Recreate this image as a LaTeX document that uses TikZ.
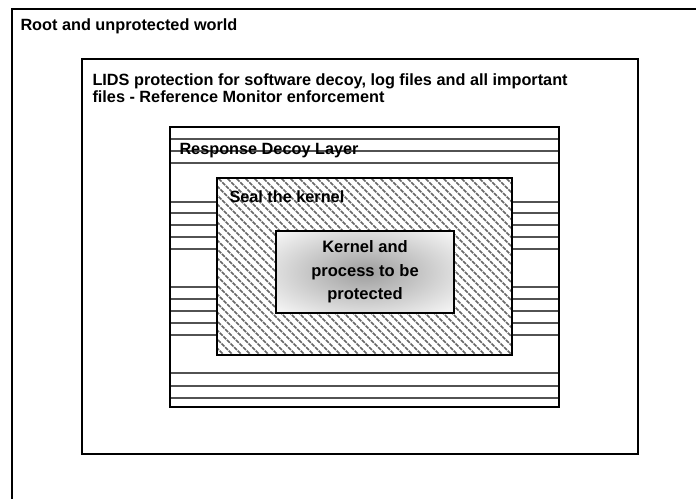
\documentclass[tikz,border=0pt]{standalone}
\usepackage{fontspec}
\setmainfont{Liberation Sans}
\tikzset{every picture/.style={line width=0.75pt}}
\tikzset{
  boxline/.style={line width=1.5pt},
  decoyline/.style={draw=black!68, line width=1.9pt},
  hatchline/.style={draw=black!60, line width=1.2pt, dash pattern=on 3pt off 0.8pt},
  boxtext/.style={font=\bfseries\fontsize{12.2}{13.2}\selectfont, inner sep=0pt, align=left}
}

\begin{document}
\begin{tikzpicture}[x=0.75pt,y=0.75pt,yscale=-1,xscale=1]
	\useasboundingbox (0,0) rectangle (696,499);
	\fill[white] (0,0) rectangle (696,499);

	%Shape: Rectangle [id:outer] 
	\draw[boxline] (12,9) rectangle (730,530);
	%Shape: Rectangle [id:lids] 
	\draw[boxline] (82,59) rectangle (638,454);

	%Shape: Lines [id:decoy] 
	\foreach \y in {139,151,163,373,386,398}
		\draw[decoyline] (170,\y) -- (559,\y);
	\foreach \y in {202,213,225,237,249,287,299,311,323,335} {
		\draw[decoyline] (170,\y) -- (217,\y);
		\draw[decoyline] (512,\y) -- (559,\y);
	}
	%Shape: Rectangle [id:decoybox] 
	\draw[boxline] (170,127) rectangle (559,407);

	%Shape: Rectangle [id:seal] 
	\fill[white] (217,178) rectangle (512,355);
	\begin{scope}
		\clip (217,178) rectangle (512,355);
		\foreach \c in {-140,-131,...,340}
			\draw[hatchline] (\c+168,168) -- ++(200,200);
	\end{scope}
	\draw[boxline] (217,178) rectangle (512,355);

	%Shape: Rectangle [id:kernel] 
	\fill[white] (276,231) rectangle (454,313);
	\begin{scope}
		\clip (276,231) rectangle (454,313);
		\shade[inner color=black!38, outer color=white] (365,272) ellipse (135 and 62);
	\end{scope}
	\draw[boxline] (276,231) rectangle (454,313);

	% Text Node
	\node[boxtext, anchor=base west] (root) at (20,31) {Root and unprotected world};
	% Text Node
	\node[boxtext, anchor=north west] (lids) at (92,73) {LIDS protection for software decoy, log files and all important\\files - Reference Monitor enforcement};
	% Text Node
	\node[boxtext, anchor=base west] (decoy) at (179,155) {Response Decoy Layer};
	% Text Node
	\node[boxtext, anchor=base west] (seal) at (229,203) {Seal the kernel};
	% Text Node
	\node[boxtext, align=center, font=\bfseries\fontsize{12.4}{17.5}\selectfont] (kernel) at (365,272) {Kernel and\\process to be\\protected};

\end{tikzpicture}
\end{document}
